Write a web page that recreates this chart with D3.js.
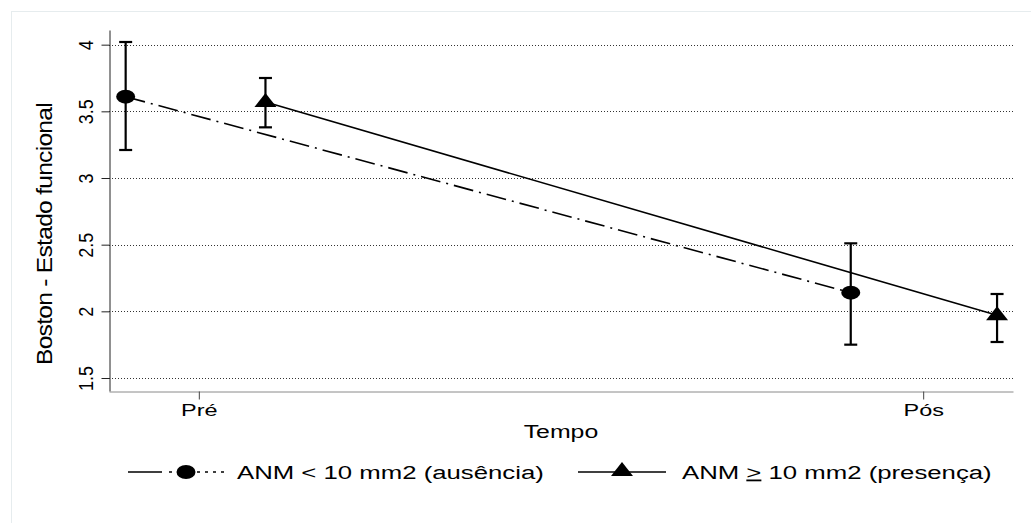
<!DOCTYPE html>
<html>
<head>
<meta charset="utf-8">
<script src="https://cdn.jsdelivr.net/npm/d3@7"></script>
<style>
  html, body { margin: 0; padding: 0; background: #fff; }
  svg { display: block; font-family: "Liberation Sans", Arial, sans-serif; }
</style>
</head>
<body>
<div id="chart"></div>
<script>
// time categories (x = 1, 2)
const times= ['Pré', 'Pós'];
const timeX= [1, 2];

// ANM < 10 mm2 (ausência): circles, dash-dot line
const absX= [0.899, 1.9];
const absMean= [3.61, 2.14];
const absLo= [3.21, 1.75];
const absHi= [4.02, 2.51];

// ANM >= 10 mm2 (presença): triangles, solid line
const presX= [1.092, 2.102];
const presMean= [3.57, 1.97];
const presLo= [3.38, 1.77];
const presHi= [3.75, 2.13];

const yTicks= [1.5, 2, 2.5, 3, 3.5, 4];
const yTickLabels= ['1.5', '2', '2.5', '3', '3.5', '4'];

const W= 1031, H= 523;
const M= { left: 109, right: 1013, top: 30, bottom: 391 };
const SX= 1.38; // horizontal stretch of the text in the original

const svg= d3.select('#chart').append('svg')
  .attr('width', W).attr('height', H);

// faint outer frame
svg.append('rect')
  .attr('x', 11.5).attr('y', 11.5)
  .attr('width', W).attr('height', H)
  .attr('fill', 'none').attr('stroke', '#e6ecee').attr('stroke-width', 1);

const x= d3.scaleLinear().domain([0.876, 2.124]).range([M.left, M.right]);
const y= d3.scaleLinear().domain([1.4025, 4.11]).range([M.bottom, M.top]);

function stretch(sel, k) {
  sel.each(function() {
    const len= this.getComputedTextLength();
    d3.select(this).attr('textLength', len*k).attr('lengthAdjust', 'spacingAndGlyphs');
  });
}

// gridlines
svg.append('g')
  .selectAll('line')
  .data(yTicks)
  .join('line')
  .attr('x1', M.left).attr('x2', M.right)
  .attr('y1', d => Math.round(y(d))+0.5).attr('y2', d => Math.round(y(d))+0.5)
  .attr('stroke', '#333').attr('stroke-width', 1)
  .attr('stroke-dasharray', '1,2');

// y axis
const yAxis= svg.append('g')
  .attr('transform', `translate(${M.left+0.5},0)`)
  .call(d3.axisLeft(y).tickValues(yTicks).tickSize(8).tickSizeOuter(0)
    .tickFormat((d, i) => yTickLabels[i]));
yAxis.select('.domain').attr('stroke', '#222');
yAxis.selectAll('.tick line').attr('stroke', '#222');
yAxis.selectAll('.tick text')
  .attr('font-size', 18)
  .attr('font-family', '"Liberation Sans", Arial, sans-serif')
  .attr('fill', '#000')
  .attr('text-anchor', 'middle')
  .attr('x', 0).attr('y', 0)
  .attr('dy', '0.36em')
  .attr('transform', 'translate(-24,0) scale(1.15,1) rotate(-90)');

// x axis
const xAxis= svg.append('g')
  .attr('transform', `translate(0,${M.bottom+0.5})`)
  .call(d3.axisBottom(x).tickValues(timeX).tickSize(8).tickSizeOuter(0)
    .tickFormat((d, i) => times[i]));
xAxis.select('.domain').attr('stroke', '#8a8a8a');
xAxis.selectAll('.tick line').attr('stroke', '#444');
xAxis.selectAll('.tick text')
  .attr('font-size', 17)
  .attr('font-family', '"Liberation Sans", Arial, sans-serif')
  .attr('fill', '#000')
  .attr('y', 12)
  .call(stretch, SX);

// axis titles
svg.append('text')
  .attr('x', x(1.5)).attr('y', 438)
  .attr('text-anchor', 'middle')
  .attr('font-size', 18)
  .text('Tempo')
  .call(stretch, SX);

svg.append('text')
  .attr('transform', 'translate(44,234) scale(1.25,1) rotate(-90)')
  .attr('text-anchor', 'middle')
  .attr('dy', '0.36em')
  .attr('font-size', 17)
  .attr('letter-spacing', -0.5)
  .attr('textLength', 262).attr('lengthAdjust', 'spacingAndGlyphs')
  .text('Boston - Estado funcional');

// connecting lines
const line= d3.line().x(d => x(d[0])).y(d => y(d[1]));
svg.append('path')
  .datum(d3.zip(absX, absMean))
  .attr('d', line)
  .attr('fill', 'none').attr('stroke', '#000').attr('stroke-width', 1.6)
  .attr('stroke-dasharray', '20,6,2,6');
svg.append('path')
  .datum(d3.zip(presX, presMean))
  .attr('d', line)
  .attr('fill', 'none').attr('stroke', '#000').attr('stroke-width', 1.6);

// error bars
function errorBars(xs, lo, hi) {
  const g= svg.append('g').attr('stroke', '#000').attr('stroke-width', 2.2);
  xs.forEach((xv, i) => {
    const cx= x(xv);
    g.append('line').attr('x1', cx).attr('x2', cx).attr('y1', y(lo[i])).attr('y2', y(hi[i]));
    g.append('line').attr('x1', cx-6.5).attr('x2', cx+6.5).attr('y1', y(lo[i])).attr('y2', y(lo[i]));
    g.append('line').attr('x1', cx-6.5).attr('x2', cx+6.5).attr('y1', y(hi[i])).attr('y2', y(hi[i]));
  });
}
errorBars(absX, absLo, absHi);
errorBars(presX, presLo, presHi);

const triPath= 'M0,-9L11,5L-11,5Z';

// markers
svg.append('g')
  .selectAll('ellipse')
  .data(d3.zip(absX, absMean))
  .join('ellipse')
  .attr('cx', d => x(d[0])).attr('cy', d => y(d[1]))
  .attr('rx', 9.5).attr('ry', 7)
  .attr('fill', '#000');

svg.append('g')
  .selectAll('path')
  .data(d3.zip(presX, presMean))
  .join('path')
  .attr('transform', d => `translate(${x(d[0])},${y(d[1])})`)
  .attr('d', triPath)
  .attr('fill', '#000');

// legend
const LY= 472;
const LSX= 1.43;
const leg= svg.append('g');
leg.append('line').attr('x1', 128).attr('x2', 186).attr('y1', LY).attr('y2', LY)
  .attr('stroke', '#000').attr('stroke-width', 1.6).attr('stroke-dasharray', '34,7,3,100');
leg.append('line').attr('x1', 197).attr('x2', 226).attr('y1', LY).attr('y2', LY)
  .attr('stroke', '#000').attr('stroke-width', 1.4).attr('stroke-dasharray', '3,5');
leg.append('ellipse').attr('cx', 186).attr('cy', LY).attr('rx', 9.5).attr('ry', 7).attr('fill', '#000');
leg.append('text').attr('x', 237).attr('y', LY+6.5).attr('font-size', 18)
  .text('ANM < 10 mm2 (ausência)').call(stretch, LSX);

leg.append('line').attr('x1', 578).attr('x2', 666).attr('y1', LY).attr('y2', LY)
  .attr('stroke', '#000').attr('stroke-width', 1.6);
leg.append('path').attr('transform', `translate(622,${LY-1})`).attr('d', triPath).attr('fill', '#000');
const t2= leg.append('text').attr('x', 682).attr('y', LY+6.5).attr('font-size', 18);
t2.append('tspan').text('ANM ');
t2.append('tspan').attr('text-decoration', 'underline').text('>');
t2.append('tspan').text(' 10 mm2 (presença)');
t2.call(stretch, LSX);
</script>
</body>
</html>
